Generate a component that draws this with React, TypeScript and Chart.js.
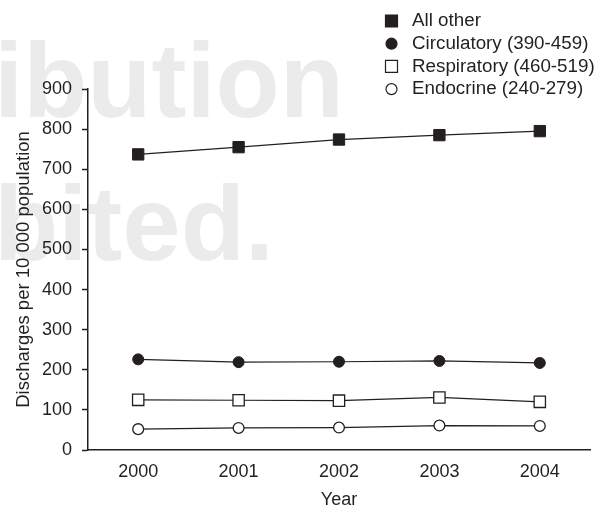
import React, { useEffect, useRef } from 'react';
import { Chart, registerables } from 'chart.js';

Chart.register(...registerables);

const years = ['2000', '2001', '2002', '2003', '2004'];
const allOther = [737, 755, 774, 785, 795];
const circulatory = [226, 219, 220, 222, 217];
const respiratory = [125, 124, 123, 131, 120];
const endocrine = [52, 55, 56, 61, 60];
const seriesLabels = ['All other', 'Circulatory (390-459)', 'Respiratory (460-519)', 'Endocrine (240-279)'];
const yTitle = 'Discharges per 10 000 population';
const xTitle = 'Year';
const watermarkLines = ['ibution', 'bited.'];

const INK = '#231f20';
const FAMILY = '"Liberation Sans", Arial, Helvetica, sans-serif';

const backgroundPlugin = {
  id: 'bgWatermark',
  beforeDraw(chart: any) {
    const ctx = chart.ctx;
    ctx.save();
    ctx.fillStyle = '#ffffff';
    ctx.fillRect(0, 0, chart.width, chart.height);
    ctx.fillStyle = '#ebebeb';
    ctx.font = `bold 105px ${FAMILY}`;
    ctx.textAlign = 'left';
    ctx.textBaseline = 'alphabetic';
    ctx.fillText(watermarkLines[0], -6, 117);
    ctx.fillText(watermarkLines[1], -6, 260);
    ctx.restore();
  },
};

const legendPlugin = {
  id: 'stackLegend',
  afterDraw(chart: any) {
    const ctx = chart.ctx;
    ctx.save();
    chart.data.datasets.forEach((ds: any, i: number) => {
      const y = 21 + i * 22.7;
      const x = 391.5;
      ctx.lineWidth = 1.2;
      ctx.strokeStyle = INK;
      ctx.fillStyle = ds.pointBackgroundColor;
      ctx.beginPath();
      if (ds.pointStyle === 'rect') {
        ctx.rect(x - 6, y - 6, 12, 12);
      } else {
        ctx.arc(x, y, 5.5, 0, Math.PI * 2);
      }
      ctx.fill();
      ctx.stroke();
      ctx.fillStyle = INK;
      ctx.font = `18.8px ${FAMILY}`;
      ctx.textBaseline = 'middle';
      ctx.textAlign = 'left';
      ctx.fillText(ds.label, 412, y);
    });
    ctx.restore();
  },
};

export default function App() {
  const ref = useRef<HTMLCanvasElement | null>(null);

  useEffect(() => {
    if (!ref.current) return;
    const mk = (label: string, data: number[], style: string, filled: boolean, radius: number) => ({
      label,
      data,
      borderColor: INK,
      borderWidth: 1.2,
      backgroundColor: filled ? INK : '#ffffff',
      pointStyle: style,
      pointRadius: radius,
      pointHoverRadius: radius,
      pointBackgroundColor: filled ? INK : '#ffffff',
      pointBorderColor: INK,
      pointBorderWidth: filled ? 1 : 1.3,
      tension: 0,
      fill: false,
      clip: false as any,
    });
    const chart = new Chart(ref.current, {
      type: 'line',
      data: {
        labels: years,
        datasets: [
          mk(seriesLabels[0], allOther, 'rect', true, 8),
          mk(seriesLabels[1], circulatory, 'circle', true, 5.5),
          mk(seriesLabels[2], respiratory, 'rect', false, 8),
          mk(seriesLabels[3], endocrine, 'circle', false, 5.4),
        ],
      },
      options: {
        responsive: false,
        animation: false,
        layout: { padding: { top: 89, right: 19, bottom: 0, left: 0 } },
        plugins: {
          legend: { display: false },
          tooltip: { enabled: false },
        },
        scales: {
          x: {
            offset: true,
            grid: { display: false, drawTicks: false },
            border: { display: true, color: INK, width: 1.5 },
            ticks: { color: INK, font: { size: 18, family: FAMILY }, padding: 11 },
            title: {
              display: true,
              text: xTitle,
              color: INK,
              font: { size: 18, family: FAMILY },
              padding: { top: 0, bottom: -4.5 },
            },
            afterFit: (s: any) => {
              s.height = 56;
            },
          },
          y: {
            min: 0,
            max: 900,
            ticks: { stepSize: 100, color: INK, font: { size: 18, family: FAMILY }, padding: 10 },
            grid: {
              drawOnChartArea: false,
              drawTicks: true,
              tickLength: 6,
              tickColor: INK,
              tickWidth: 1.5,
              color: INK,
            },
            border: { display: true, color: INK, width: 1.5 },
            title: {
              display: true,
              text: yTitle,
              color: INK,
              font: { size: 18.5, family: FAMILY },
              padding: { top: 12.5, bottom: 0 },
            },
            afterFit: (s: any) => {
              s.width = 88;
            },
          },
        },
      } as any,
      plugins: [backgroundPlugin, legendPlugin],
    });
    return () => chart.destroy();
  }, []);

  return (
    <div style={{ position: 'absolute', left: 0, top: 0, width: 609, height: 506 }}>
      <canvas ref={ref} width={609} height={506} style={{ display: 'block' }} />
    </div>
  );
}
